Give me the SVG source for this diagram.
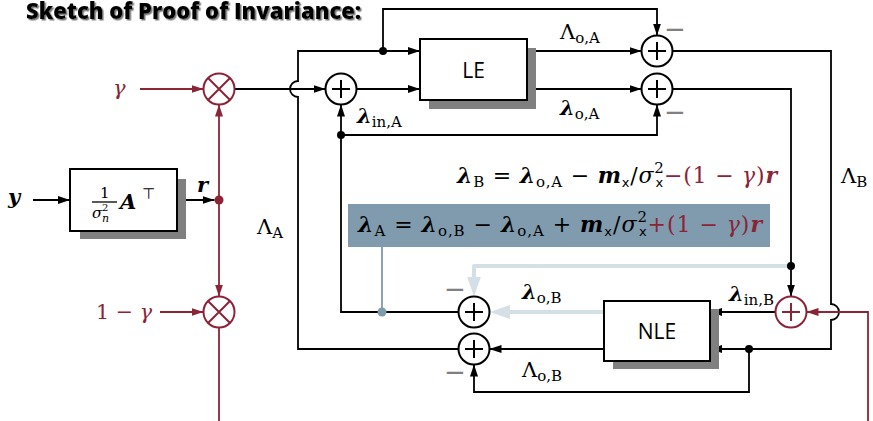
<svg xmlns="http://www.w3.org/2000/svg" width="873" height="421" viewBox="0 0 873 421">
<style>
.ln{fill:none;stroke:#000;stroke-width:1.8}
.rd{fill:none;stroke:#8c2438;stroke-width:1.8}
.lt{fill:none;stroke:#d5dfe6;stroke-width:4;stroke-linejoin:round}
.bl{fill:none;stroke:#7f9bad;stroke-width:1.8}
.sum circle{fill:#fff;stroke:#000;stroke-width:2}
.sum path{fill:none;stroke:#000;stroke-width:2}
.rsum circle{fill:#fff;stroke:#8c2438;stroke-width:2}
.rsum path{fill:none;stroke:#8c2438;stroke-width:2}
.box{fill:#fff;stroke:#000;stroke-width:2}
.shadow{fill:#808080}
.m{font-family:"DejaVu Serif","Liberation Serif",serif;font-size:21px;fill:#000}
.eq{font-size:22px}
.bi{font-weight:bold;font-style:italic}
.it{font-style:italic}
.sub{font-size:15px}
.sf{font-family:"DejaVu Sans",sans-serif;font-size:13px}
.red{fill:#8c2438}
.minus{font-family:"DejaVu Sans",sans-serif;font-size:26px;fill:#808080}
.sans{font-family:"Open Sans","Noto Sans",sans-serif;font-size:21px;fill:#000}
.title{font-family:"Open Sans","Noto Sans",sans-serif;font-size:22px;font-weight:800;fill:#000}
</style>
<defs>
<marker id="a" viewBox="0 0 12 8" refX="12" refY="4" markerWidth="12" markerHeight="8" markerUnits="userSpaceOnUse" orient="auto"><path d="M0,0L12,4L0,8z" fill="#000"/></marker>
<marker id="ar" viewBox="0 0 12 8" refX="12" refY="4" markerWidth="12" markerHeight="8" markerUnits="userSpaceOnUse" orient="auto"><path d="M0,0L12,4L0,8z" fill="#8c2438"/></marker>
<marker id="al" viewBox="0 0 20 14" refX="14" refY="7" markerWidth="20" markerHeight="14" markerUnits="userSpaceOnUse" orient="auto"><path d="M0,0L20,7L0,14z" fill="#d5dfe6"/></marker>
<filter id="ts" x="-5%" y="-50%" width="110%" height="200%"><feDropShadow dx="1.5" dy="1.5" stdDeviation="0.6" flood-color="#777" flood-opacity="1"/></filter>
</defs>
<rect width="873" height="421" fill="#fff"/>
<g id="title"><text class="title" x="26" y="19" filter="url(#ts)">Sketch of Proof of Invariance:</text></g>

<g id="connectors">
<path class="ln" d="M235,89H325.5" marker-end="url(#a)"/>
<path class="ln" d="M458.5,349H298V97A8,8 0 0 1 298,81V51H420" marker-end="url(#a)"/>
<path class="ln" d="M383,51V9H657V35.5" marker-end="url(#a)"/>
<path class="ln" d="M527,51H641.5" marker-end="url(#a)"/>
<path class="ln" d="M527,89H641.5" marker-end="url(#a)"/>
<path class="ln" d="M356.5,89H420" marker-end="url(#a)"/>
<path class="ln" d="M341,135V104.5" marker-end="url(#a)"/>
<path class="ln" d="M341,135H657V104.5" marker-end="url(#a)"/>
<path class="ln" d="M341,135V312H458.5"/>
<path class="ln" d="M672.5,51H831V304A8,8 0 0 1 831,320V349H710" marker-end="url(#a)"/>
<path class="ln" d="M749,349V392H474V364.5" marker-end="url(#a)"/>
<path class="ln" d="M672.5,89H791V296.5" marker-end="url(#a)"/>
<path class="ln" d="M775.5,312H710" marker-end="url(#a)"/>
<path class="ln" d="M604,349H489.5" marker-end="url(#a)"/>
<path class="ln" d="M33,200H70" marker-end="url(#a)"/>
<path class="ln" d="M177,200H214.5" marker-end="url(#a)"/>
<path class="rd" d="M140,89H203.5" marker-end="url(#ar)"/>
<path class="rd" d="M160,312H203.5" marker-end="url(#ar)"/>
<path class="rd" d="M219,200V104.5" marker-end="url(#ar)"/>
<path class="rd" d="M219,200V296.5" marker-end="url(#ar)"/>
<path class="rd" d="M219,327.5V421"/>
<path class="rd" d="M868,421V312H806.5" marker-end="url(#ar)"/>
<path class="lt" d="M791,266H474V290.5" marker-end="url(#al)"/>
<path class="lt" d="M604,312H496" marker-end="url(#al)"/>
<path class="bl" d="M382,247V312"/>
<circle cx="383" cy="51" r="4" fill="#000"/>
<circle cx="341" cy="135" r="4" fill="#000"/>
<circle cx="791" cy="266" r="4" fill="#000"/>
<circle cx="749" cy="349" r="4" fill="#000"/>
<circle cx="219" cy="200" r="4.5" fill="#8c2438"/>
<circle cx="382" cy="312" r="4.5" fill="#7f9bad"/>
</g>

<g id="mul-gamma" class="rsum"><circle cx="219" cy="89" r="15.5"/><path d="M208,78l22,22M230,78l-22,22"/></g>
<g id="mul-one-minus-gamma" class="rsum"><circle cx="219" cy="312" r="15.5"/><path d="M208,301l22,22M230,301l-22,22"/></g>
<g id="sum-inA" class="sum"><circle cx="341" cy="89" r="15.5"/><path d="M332,89h18M341,80v18"/></g>
<g id="sum-oA-top" class="sum"><circle cx="657" cy="51" r="15.5"/><path d="M648,51h18M657,42v18"/></g>
<g id="sum-oA-bot" class="sum"><circle cx="657" cy="89" r="15.5"/><path d="M648,89h18M657,80v18"/></g>
<g id="sum-inB" class="rsum"><circle cx="791" cy="312" r="15.5"/><path d="M782,312h18M791,303v18"/></g>
<g id="sum-oB-top" class="sum"><circle cx="474" cy="312" r="15.5"/><path d="M465,312h18M474,303v18"/></g>
<g id="sum-oB-bot" class="sum"><circle cx="474" cy="349" r="15.5"/><path d="M465,349h18M474,340v18"/></g>

<g id="box-AT">
<rect class="shadow" x="80" y="179" width="106" height="60"/>
<rect class="box" x="70" y="169" width="107" height="62"/>
<text class="m" x="100" y="198" style="font-size:15px">1</text>
<path d="M92,202H117" stroke="#000" stroke-width="1.3"/>
<text class="m it" x="92" y="218" style="font-size:15px">σ</text>
<text class="m" x="102" y="211" style="font-size:10px">2</text>
<text class="m it" x="102" y="222" style="font-size:11px">n</text>
<text class="m bi" x="120" y="209">A</text>
<text x="142" y="199" font-family="DejaVu Sans, sans-serif" font-size="15">⊤</text>
</g>
<g id="LE"><rect class="shadow" x="429" y="48" width="107" height="61"/><rect class="box" x="420" y="39" width="107" height="61"/><text class="sans" x="473.5" y="78" text-anchor="middle">LE</text></g>
<g id="NLE"><rect class="shadow" x="613" y="309" width="106" height="60"/><rect class="box" x="604" y="301" width="106" height="60"/><text class="sans" x="657" y="339" text-anchor="middle">NLE</text></g>

<g id="eq-B"><text class="m eq" x="457" y="183" textLength="320" lengthAdjust="spacing"><tspan class="bi">λ</tspan><tspan class="sub" dy="4">B</tspan><tspan dy="-4"> = </tspan><tspan class="bi">λ</tspan><tspan class="sub" dy="4">o,A</tspan><tspan dy="-4"> − </tspan><tspan class="bi">m</tspan><tspan class="sf" dy="4">x</tspan><tspan dy="-4">/</tspan><tspan class="it">σ</tspan><tspan class="sub" dy="-10">2</tspan><tspan class="sf" dx="-9" dy="14">x</tspan><tspan class="red" dy="-4">−(1 − </tspan><tspan class="red it">γ</tspan><tspan class="red">)</tspan><tspan class="red bi">r</tspan></text></g>

<g id="eq-A"><rect x="348" y="204" width="422" height="43" fill="#7f9bad"/><text class="m eq" x="358" y="232" textLength="404" lengthAdjust="spacing"><tspan class="bi">λ</tspan><tspan class="sub" dy="4">A</tspan><tspan dy="-4"> = </tspan><tspan class="bi">λ</tspan><tspan class="sub" dy="4">o,B</tspan><tspan dy="-4"> − </tspan><tspan class="bi">λ</tspan><tspan class="sub" dy="4">o,A</tspan><tspan dy="-4"> + </tspan><tspan class="bi">m</tspan><tspan class="sf" dy="4">x</tspan><tspan dy="-4">/</tspan><tspan class="it">σ</tspan><tspan class="sub" dy="-10">2</tspan><tspan class="sf" dx="-9" dy="14">x</tspan><tspan class="red" dy="-4">+(1 − </tspan><tspan class="red it">γ</tspan><tspan class="red">)</tspan><tspan class="red bi">r</tspan></text></g>

<g id="labels">
<text class="m red it" x="113" y="95">γ</text>
<text class="m red" x="96" y="319" textLength="56" lengthAdjust="spacingAndGlyphs">1 − <tspan class="it">γ</tspan></text>
<text class="m bi" x="8" y="204">y</text>
<text class="m bi" x="197" y="192">r</text>
<text class="m" x="560" y="39">Λ<tspan class="sub" dy="4">o,A</tspan></text>
<text class="m" x="560" y="115"><tspan class="bi">λ</tspan><tspan class="sub" dy="4">o,A</tspan></text>
<text class="m" x="357" y="123"><tspan class="bi">λ</tspan><tspan class="sub" dy="4">in,A</tspan></text>
<text class="m" x="257" y="234">Λ<tspan class="sub" dy="4">A</tspan></text>
<text class="m" x="841" y="183">Λ<tspan class="sub" dy="4">B</tspan></text>
<text class="m" x="729" y="301"><tspan class="bi">λ</tspan><tspan class="sub" dy="4">in,B</tspan></text>
<text class="m" x="522" y="299"><tspan class="bi">λ</tspan><tspan class="sub" dy="4">o,B</tspan></text>
<text class="m" x="522" y="377">Λ<tspan class="sub" dy="4">o,B</tspan></text>
<text class="minus" x="664" y="38">−</text>
<text class="minus" x="664" y="121">−</text>
<text class="minus" x="444" y="298">−</text>
<text class="minus" x="444" y="381">−</text>
</g>
</svg>
